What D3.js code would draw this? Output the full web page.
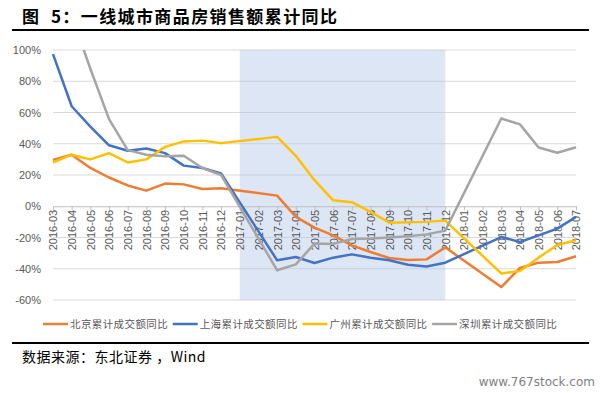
<!DOCTYPE html>
<html>
<head>
<meta charset="utf-8">
<script src="https://cdn.jsdelivr.net/npm/d3@7"></script>
<style>
  body { margin: 0; background: #fff; }
  svg { display: block; }
</style>
</head>
<body>
<div id="chart"></div>
<script>
// months; Jan/Feb have no separate data, lines run straight across them
var months = ["2016-03", "2016-04", "2016-05", "2016-06", "2016-07", "2016-08",
    "2016-09", "2016-10", "2016-11", "2016-12", "2017-01", "2017-02", "2017-03",
    "2017-04", "2017-05", "2017-06", "2017-07", "2017-08", "2017-09", "2017-10",
    "2017-11", "2017-12", "2018-01", "2018-02", "2018-03", "2018-04", "2018-05",
    "2018-06", "2018-07"];

var beijing = [29.7, 33, 24.5, 18.4, 13.3, 10, 14.5, 14, 11, 11.5, null, null, 6.8,
    -6.8, -13.7, -18.6, -25, -29.3, -33.1, -34.4, -34, -26.3, null, null, -51.7,
    -39.5, -36.1, -35.7, -32];
var shanghai = [97.4, 64, 51, 39, 35.5, 37, 34, 26, 24.5, 21, null, null, -34.6,
    -32.5, -36.3, -32.9, -30.8, -32.9, -34.6, -37.4, -38.5, -36.1, null, null, -19.7,
    -22.9, -18.6, -14.3, -6.8];
var guangzhou = [28, 33, 30, 34, 28, 30, 38, 41.5, 42, 40.4, null, null, 44.4,
    32.3, 16.7, 3.8, 2.6, -3.6, -10.5, -10.3, -10, -9.2, null, null, -43,
    -41.5, -32.9, -24.8, -21.8];
var shenzhen = [150, 122, 88, 55.8, 35.9, 33, 32, 32.3, 24.5, 20, null, null, -41,
    -37.2, -23.9, -24.1, -21, -20.7, -20, -19.2, -18, -15.6, null, null, 56.2,
    52.4, 37.6, 34.2, 37.8];

var seriesNames = ["北京累计成交额同比", "上海累计成交额同比", "广州累计成交额同比", "深圳累计成交额同比"];
var seriesColors = ["#ed7d31", "#4472c4", "#ffc000", "#a5a5a5"];
var yTicks = [-60, -40, -20, 0, 20, 40, 60, 80, 100];
var shadeFrom = "2017-01";
var shadeTo = "2017-12";

var width = 609;
var height = 393;
var plot = { left: 53, right: 576, top: 50, bottom: 300 };
var cjk = "'Noto Sans CJK SC', sans-serif";
var latin = "'Liberation Sans', Arial, sans-serif";

var svg = d3.select("#chart").append("svg")
    .attr("width", width)
    .attr("height", height);

// title and rules
svg.append("text")
    .attr("x", 22)
    .attr("y", 23)
    .attr("font-family", cjk)
    .attr("font-size", 17)
    .attr("font-weight", 700)
    .attr("letter-spacing", 1.4)
    .attr("fill", "#000")
    .style("white-space", "pre")
    .text("图  5：一线城市商品房销售额累计同比");

svg.append("rect")
    .attr("x", 12).attr("y", 29)
    .attr("width", 577).attr("height", 2)
    .attr("fill", "#000");

svg.append("rect")
    .attr("x", 12).attr("y", 342)
    .attr("width", 577).attr("height", 2)
    .attr("fill", "#000");

var x = d3.scalePoint()
    .domain(months)
    .range([plot.left, plot.right]);

var y = d3.scaleLinear()
    .domain([-60, 100])
    .range([plot.bottom, plot.top]);

// gridlines
svg.append("g")
    .selectAll("line")
    .data(yTicks.filter(d => d !== 0))
    .enter().append("line")
    .attr("x1", plot.left)
    .attr("x2", plot.right)
    .attr("y1", d => y(d))
    .attr("y2", d => y(d))
    .attr("stroke", "#d9d9d9")
    .attr("stroke-width", 1);

// shaded period
svg.append("rect")
    .attr("x", x(shadeFrom))
    .attr("y", y(100))
    .attr("width", x(shadeTo) - x(shadeFrom))
    .attr("height", y(-60) - y(100))
    .attr("fill", "#b4c7e7")
    .attr("opacity", 0.45);

// y axis labels
var yAxis = svg.append("g")
    .attr("transform", "translate(" + (plot.left - 9) + ",0)")
    .call(d3.axisLeft(y).tickValues(yTicks).tickSize(0).tickFormat(d => d + "%"));
yAxis.select(".domain").remove();
yAxis.selectAll("text")
    .attr("font-family", latin)
    .attr("font-size", 11)
    .attr("fill", "#595959");

// zero line with month labels, reading upward from below the axis
var xAxis = svg.append("g")
    .attr("transform", "translate(0," + y(0) + ")")
    .call(d3.axisBottom(x).tickSize(4).tickSizeOuter(0));
xAxis.select(".domain").attr("stroke", "#bfbfbf");
xAxis.selectAll(".tick line").attr("stroke", "#bfbfbf");
xAxis.selectAll("text")
    .attr("font-family", latin)
    .attr("font-size", 11)
    .attr("fill", "#595959")
    .attr("transform", "rotate(-90)")
    .attr("text-anchor", "start")
    .attr("x", -44)
    .attr("y", 0)
    .attr("dy", "0.35em");

// lines
svg.append("clipPath")
    .attr("id", "plotClip")
    .append("rect")
    .attr("x", 0)
    .attr("y", plot.top)
    .attr("width", width)
    .attr("height", plot.bottom - plot.top + 5);

var line = d3.line()
    .x(d => x(d.month))
    .y(d => y(d.value));

var allSeries = [beijing, shanghai, guangzhou, shenzhen];

allSeries.forEach(function(values, i) {
    var points = months.map((m, j) => ({ month: m, value: values[j] }))
        .filter(d => d.value !== null);
    svg.append("path")
        .datum(points)
        .attr("clip-path", "url(#plotClip)")
        .attr("fill", "none")
        .attr("stroke", seriesColors[i])
        .attr("stroke-width", 2.5)
        .attr("stroke-linejoin", "round")
        .attr("d", line);
});

// legend
var legend = svg.append("g")
    .selectAll("g")
    .data(seriesNames)
    .enter().append("g")
    .attr("transform", (d, i) => "translate(" + (43 + i * 129.7) + ",324)");

legend.append("line")
    .attr("x1", 0).attr("x2", 25)
    .attr("y1", 0).attr("y2", 0)
    .attr("stroke", (d, i) => seriesColors[i])
    .attr("stroke-width", 2.5);

legend.append("text")
    .attr("x", 27)
    .attr("y", 0)
    .attr("dy", "0.36em")
    .attr("font-family", cjk)
    .attr("font-size", 10.5)
    .attr("letter-spacing", 0.4)
    .attr("fill", "#595959")
    .text(d => d);

// source and watermark
svg.append("text")
    .attr("x", 22)
    .attr("y", 362)
    .attr("font-family", cjk)
    .attr("font-size", 14)
    .attr("letter-spacing", 0.5)
    .attr("fill", "#000")
    .style("white-space", "pre")
    .text("数据来源：东北证券 ，Wind");

svg.append("text")
    .attr("x", 595)
    .attr("y", 386)
    .attr("text-anchor", "end")
    .attr("font-family", "'DejaVu Sans', sans-serif")
    .attr("font-size", 12)
    .attr("fill", "#7f7f7f")
    .text("www.767stock.com");
</script>
</body>
</html>
